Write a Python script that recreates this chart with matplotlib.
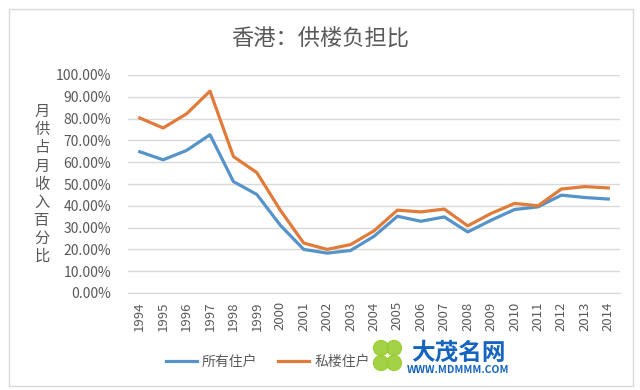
import matplotlib
matplotlib.use('Agg')
import matplotlib.pyplot as plt
from matplotlib.patches import Rectangle, Ellipse

plt.rcParams['font.family'] = ['Noto Sans CJK SC', 'DejaVu Sans']

# 数据
years = [str(y) for y in range(1994, 2015)]
all_households = [64.8, 61.1, 65.4, 72.6, 51.1, 45.2, 31.1, 20.0, 18.3, 19.5, 26.0,
                  35.2, 32.9, 34.9, 28.0, 33.4, 38.3, 39.5, 44.9, 43.8, 43.1]
private_households = [80.3, 75.7, 82.2, 92.6, 62.6, 55.2, 38.0, 22.9, 20.0, 22.2, 28.5,
                      38.0, 37.2, 38.5, 30.8, 36.5, 41.1, 40.0, 47.7, 48.8, 48.2]
series_names = ['所有住户', '私楼住户']
yticks = [0, 10, 20, 30, 40, 50, 60, 70, 80, 90, 100]

W, H = 640, 390
fig = plt.figure(figsize=(W / 100, H / 100), dpi=100)

# 外框
fig.patches.append(Rectangle((9 / W, 1 - 386 / H), 624 / W, 377 / H, transform=fig.transFigure,
                             fill=False, edgecolor='#d9d9d9', linewidth=1))

ax = fig.add_axes([128 / W, 1 - 293 / H, 492 / W, 218 / H])
x = range(len(years))
ax.plot(x, all_households, color='#5593c8', linewidth=2.3, label=series_names[0])
ax.plot(x, private_households, color='#e07b39', linewidth=2.3, label=series_names[1])

ax.set_xlim(-0.5, len(years) - 0.5)
ax.set_ylim(0, 100)
ax.set_yticks(yticks)
ax.set_yticklabels([f'{v:.2f}%' for v in yticks], fontsize=10, color='#595959')
ax.set_xticks(list(x))
ax.set_xticklabels(years, rotation=90, fontsize=9.5, color='#595959')
ax.tick_params(axis='y', length=0, pad=12)
ax.tick_params(axis='x', length=0, pad=6)
ax.grid(axis='y', color='#d9d9d9', linewidth=1)
ax.set_axisbelow(True)
for s in ['top', 'right', 'left']:
    ax.spines[s].set_visible(False)
ax.spines['bottom'].set_color('#d9d9d9')

# 标题与纵轴标签
fig.text(320 / W, 1 - 38 / H, '香港：供楼负担比', ha='center', va='center', fontsize=16, color='#595959')
fig.text(42 / W, 1 - 184 / H, '\n'.join('月供占月收入百分比'), ha='center', va='center',
         fontsize=11, color='#595959', linespacing=1.08)

# 图例
fig.legend(loc='center', bbox_to_anchor=(268 / W, 1 - 362 / H), ncol=2, frameon=False,
           fontsize=10, labelcolor='#595959', handlelength=2.2, columnspacing=1.5, handletextpad=0.4)

# 水印
for cx, cy in [(381, 348), (394, 348), (381, 363), (394, 363)]:
    fig.patches.append(Ellipse((cx / W, 1 - cy / H), 15 / W, 15 / H, transform=fig.transFigure,
                               color='#9acd32', alpha=0.9))
fig.text(458 / W, 1 - 353 / H, '大茂名网', ha='center', va='center', fontsize=17,
         fontweight='bold', color='#1565c0')
fig.text(458 / W, 1 - 370 / H, 'WWW.MDMMM.COM', ha='center', va='center', fontsize=7.5,
         fontweight='bold', color='#1565c0')

fig.savefig('out.png', dpi=100)
